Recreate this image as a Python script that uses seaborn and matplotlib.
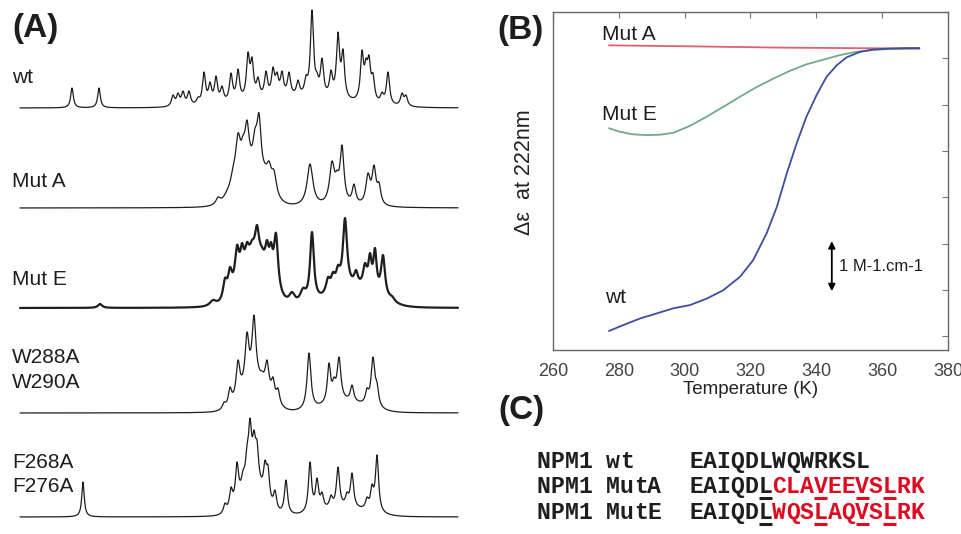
import numpy as np
import pandas as pd
import matplotlib.pyplot as plt
import seaborn as sns

sns.set_style("white")
plt.rcParams['font.family'] = ['Liberation Sans', 'DejaVu Sans']

# =========================
# 1. DATOS
# =========================
ANCHO, ALTO = 962, 534

# --- (A) espectros RMN: posicion del pico, altura, semi-anchura ---
wt_pos = [72, 99, 173, 178, 183, 189, 198, 204, 210, 216, 222, 231, 238, 248, 252, 258,
          266, 273, 277, 282, 289, 298, 306, 312, 317, 322, 331, 338, 343, 362, 366, 369,
          373, 382, 388, 402, 406]
wt_alt = [20, 20, 13, 15, 17, 17, 11, 36, 26, 32, 22, 35, 39, 56, 51, 31,
          37, 41, 36, 37, 36, 28, 33, 98, 36, 50, 38, 76, 59, 58, 50, 53,
          35, 16, 36, 15, 13]
wt_anch = [1.6, 1.6] + [1.9] * (len(wt_pos) - 2)
wt_fondo = [(295, 45, 9)]

mutA_pos = [218, 227, 233, 238, 243, 247, 255, 259, 265, 269, 274, 310, 332, 337, 342, 354, 368, 374, 379]
mutA_alt = [11, 18, 41, 75, 73, 88, 80, 95, 45, 47, 38, 44, 47, 38, 63, 24, 35, 43, 26]
mutA_anch = [2.5, 3, 3.5, 3, 2.5, 2.6, 2.6, 2.6, 3, 3, 3, 3.5, 3, 2.4, 2.4, 2.2, 2.6, 2.4, 2.2]
mutA_fondo = [(250, 14, 32)]

mutE_pos = [100, 213, 225, 230, 237, 242, 247, 252, 257, 262, 267, 271, 276, 292, 303, 312,
            328, 333, 338, 345, 356, 365, 370, 375, 383, 392]
mutE_alt = [4, 8, 30, 41, 63, 65, 66, 68, 83, 61, 68, 66, 75, 16, 20, 76,
            31, 36, 43, 90, 38, 45, 55, 60, 53, 12]
mutE_anch = [2.5, 4, 2.5, 2.5, 2.5, 2, 2, 2, 2.2, 2, 2, 2, 2.5, 3.5, 3.5, 2.3,
             2.5, 2.5, 2.5, 2.5, 2.3, 2.5, 2, 2, 2.5, 3.5]
mutE_fondo = [(255, 13, 55), (352, 22, 18)]

w288_pos = [224, 230, 238, 247, 254, 262, 267, 273, 278, 309, 329, 334, 339, 352, 367, 373, 377]
w288_alt = [11, 26, 53, 81, 98, 42, 53, 36, 25, 60, 50, 36, 56, 28, 25, 56, 31]
w288_anch = [2, 2, 2.3, 2.3, 2.3, 2, 2.3, 2, 2, 2.3, 2, 2, 2.3, 2, 2, 2.3, 2]
w288_fondo = [(255, 13, 30), (345, 20, 10)]

f268_pos = [83, 225, 231, 237, 243, 247, 250, 254, 257, 265, 268, 275, 286, 310, 317, 322,
            331, 338, 347, 352, 367, 372, 377]
f268_alt = [35, 14, 30, 55, 47, 72, 99, 87, 77, 57, 52, 27, 37, 55, 39, 25,
            22, 50, 25, 44, 20, 33, 62]
f268_anch = [1.5] + [1.9] * 22
f268_fondo = [(252, 11, 32), (345, 22, 8)]

lineas_base = [108, 208, 308, 413, 517]          # pixel y de la linea base
grosor_A = [0.9, 0.9, 1.6, 0.9, 0.9]

# --- (B) curvas de desnaturalizacion termica ---
wt_T = [277, 281.4, 286.4, 291.5, 296.5, 301.6, 306.7, 311.7, 316.8, 320.8, 324.9, 328,
        331, 334, 337, 340.1, 343.1, 346.2, 349.2, 353.3, 357.3, 362, 367, 371.3]
wt_de = [0.11, 0.24, 0.38, 0.49, 0.60, 0.67, 0.81, 0.99, 1.28, 1.64, 2.22, 2.79,
         3.51, 4.16, 4.74, 5.21, 5.60, 5.85, 6.02, 6.14, 6.19, 6.21, 6.22, 6.22]
mutE_T = [277, 280, 284, 288.5, 292.5, 296.5, 301.6, 306.7, 311.7, 316.8, 321.9, 326.9, 332, 337,
          342.1, 347.2, 352.2, 357.3, 362.4, 371.3]
mutE_de = [4.49, 4.42, 4.36, 4.34, 4.35, 4.39, 4.54, 4.74, 4.95, 5.17, 5.38, 5.56, 5.73, 5.87,
           5.97, 6.07, 6.14, 6.18, 6.20, 6.21]
mutA_T = [277, 300, 330, 371.3]
mutA_de = [6.28, 6.26, 6.23, 6.21]

colores_B = {"Mut A": "#e0606e", "Mut E": "#72a98c", "wt": "#3f4d9e"}

# --- (C) secuencias ---
filas_C = ["NPM1 wt", "NPM1 MutA", "NPM1 MutE"]
secuencias = ["EAIQDLWQWRKSL", "EAIQDLCLAVEEVSLRK", "EAIQDLWQSLAQVSLRK"]
inicio_rojo = [None, 6, 6]
subrayado = [[], [5, 9, 12, 14], [5, 9, 12, 14]]


def espectro(x, pos, alt, anch, fondo):
    pos = np.asarray(pos, float)
    alt = np.asarray(alt, float)
    anch = np.asarray(anch, float)

    def base(t):
        t = np.asarray(t, float)
        out = np.zeros_like(t)
        for c, s, h in fondo:
            out += h * np.exp(-0.5 * ((t - c) / s) ** 2)
        return out

    K = 1.0 / (1.0 + ((pos[:, None] - pos[None, :]) / anch[None, :]) ** 2)
    amp = np.clip(np.linalg.solve(K, alt - base(pos)), 0, None)
    y = base(x)
    for p, a, w in zip(pos, amp, anch):
        y += a / (1.0 + ((x - p) / w) ** 2)
    return y


fig = plt.figure(figsize=(ANCHO / 100, ALTO / 100), dpi=100)

# =========================
# 2. PANEL A
# =========================
ax_a = fig.add_axes([0, 0, 480 / ANCHO, 1])
ax_a.set_xlim(0, 480)
ax_a.set_ylim(0, ALTO)
ax_a.axis("off")

x = np.linspace(20, 458, 2200)
datos_A = [
    (wt_pos, wt_alt, wt_anch, wt_fondo),
    (mutA_pos, mutA_alt, mutA_anch, mutA_fondo),
    (mutE_pos, mutE_alt, mutE_anch, mutE_fondo),
    (w288_pos, w288_alt, w288_anch, w288_fondo),
    (f268_pos, f268_alt, f268_anch, f268_fondo),
]
for (p, a, w, f), yb, lw in zip(datos_A, lineas_base, grosor_A):
    y = espectro(x, p, a, w, f)
    sns.lineplot(x=x, y=(ALTO - yb) + y, ax=ax_a, color="#1e1e1e", lw=lw, sort=False)

# etiquetas (baseline en pixeles)
etiquetas_A = [("wt", 83), ("Mut A", 187), ("Mut E", 285), ("W288A", 363),
               ("W290A", 388), ("F268A", 468), ("F276A", 492)]
for txt, yb in etiquetas_A:
    ax_a.text(12, ALTO - yb, txt, fontsize=15, va="baseline", ha="left", color="#1e1e1e")

# =========================
# 3. PANEL B
# =========================
ax_b = fig.add_axes([553 / ANCHO, (ALTO - 350) / ALTO, 395 / ANCHO, 338 / ALTO])
df_b = pd.concat([
    pd.DataFrame({"T": mutA_T, "de": mutA_de, "serie": "Mut A"}),
    pd.DataFrame({"T": mutE_T, "de": mutE_de, "serie": "Mut E"}),
    pd.DataFrame({"T": wt_T, "de": wt_de, "serie": "wt"}),
])
sns.lineplot(data=df_b, x="T", y="de", hue="serie", palette=colores_B,
             legend=False, errorbar=None, lw=1.3, ax=ax_b)

ax_b.set_xlim(260, 380)
ax_b.set_ylim(-0.3, 7.0)
ax_b.set_xticks(range(260, 381, 20))
ax_b.set_yticks(range(0, 8))
ax_b.set_yticklabels([])
ax_b.tick_params(direction="in", length=4, width=0.8, top=True, right=True,
                 labelsize=13, labelcolor="#444444", color="#777777", pad=9)
for s in ax_b.spines.values():
    s.set_color("#666666")
    s.set_linewidth(1.0)
ax_b.set_xlabel("Temperature (K)", fontsize=13.5, labelpad=1, color="#222222")
ax_b.set_ylabel("Δε  at 222nm", fontsize=15.5, color="#222222")
ax_b.yaxis.set_label_coords(-0.046, 0.525)

ax_b.text(274.9, 6.39, "Mut A", fontsize=15, va="baseline", color="#1e1e1e")
ax_b.text(274.9, 4.67, "Mut E", fontsize=15, va="baseline", color="#1e1e1e")
ax_b.text(275.8, 0.71, "wt", fontsize=15, va="baseline", color="#1e1e1e")

ax_b.annotate("", xy=(344.7, 2.05), xytext=(344.7, 0.97),
              arrowprops=dict(arrowstyle="<|-|>", color="black", lw=1.3,
                              shrinkA=0, shrinkB=0, mutation_scale=10))
ax_b.text(346.8, 1.5, "1 M-1.cm-1", fontsize=12, va="center", ha="left", color="#1e1e1e")

# =========================
# 4. PANEL C
# =========================
ax_c = fig.add_axes([520 / ANCHO, 0, 442 / ANCHO, 140 / ALTO])
ax_c.set_xlim(520, 962)
ax_c.set_ylim(ALTO, ALTO - 140)
ax_c.axis("off")

cw = 13.85                                 # ancho de caracter en pixeles
fs_mono = cw * 72 / (0.6 * 100)
x0 = 536.7
col_seq = 11
bases_C = [468.3, 493.3, 519.3]
rojo = "#dd0a20"
mono = dict(family=["Liberation Mono", "DejaVu Sans Mono"], fontweight="bold", fontsize=fs_mono)

for fila, seq, r0, subr, yb in zip(filas_C, secuencias, inicio_rojo, subrayado, bases_C):
    for i, ch in enumerate(fila):
        ax_c.text(x0 + (i + 0.5) * cw, yb, ch, ha="center", va="baseline", color="#1e1e1e", **mono)
    for i, ch in enumerate(seq):
        col = rojo if (r0 is not None and i >= r0) else "#1e1e1e"
        ax_c.text(x0 + (col_seq + i + 0.5) * cw, yb, ch, ha="center", va="baseline", color=col, **mono)
    for i in subr:
        col = rojo if (r0 is not None and i >= r0) else "#1e1e1e"
        xl = x0 + (col_seq + i) * cw
        ax_c.plot([xl + 0.5, xl + cw - 0.5], [yb + 4.5, yb + 4.5], color=col, lw=2.2,
                  solid_capstyle="butt")

# =========================
# 5. ETIQUETAS DE PANEL
# =========================
for txt, (px, py) in zip(["(A)", "(B)", "(C)"], [(35, 28), (521, 30), (521, 410)]):
    fig.text(px / ANCHO, 1 - py / ALTO, txt, ha="center", va="center",
             fontsize=24, fontweight="bold", color="#1e1e1e")

plt.savefig("out.png", dpi=100)
